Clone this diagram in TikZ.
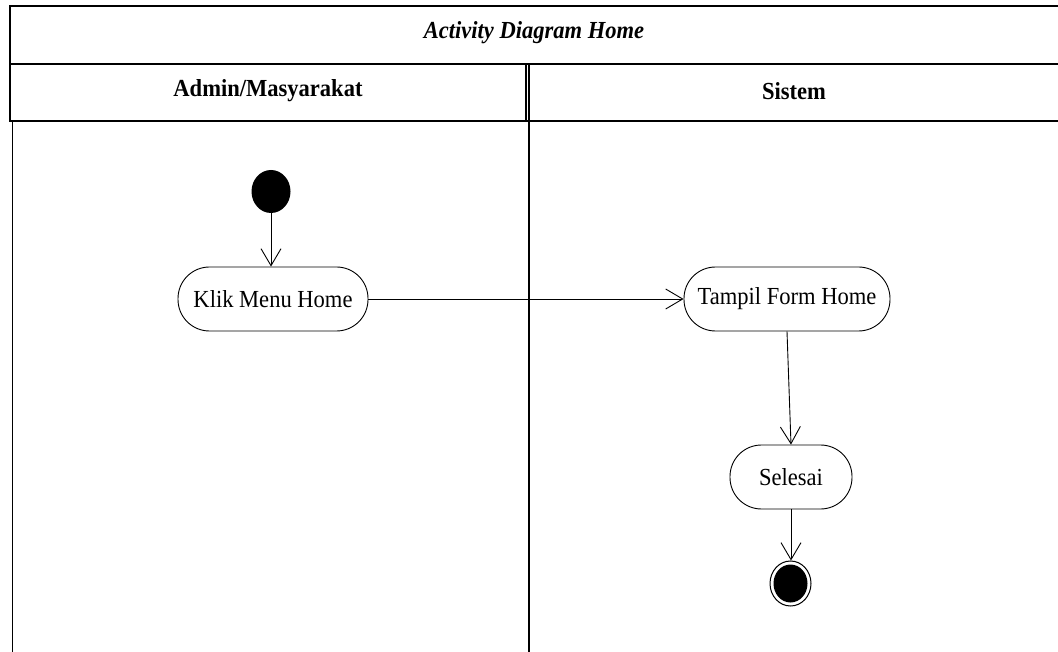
\documentclass[tikz,border=0pt]{standalone}
\usepackage{fontspec}
\setmainfont{Liberation Serif}[FakeStretch=0.92]
\usetikzlibrary{arrows.meta,shapes.geometric}
\begin{document}
\begin{tikzpicture}[x=1pt,y=-1pt,
  frame/.style={line width=1.7pt},
  lane/.style={line width=1.4pt},
  txt/.style={font=\fontsize{24.5}{29}\selectfont},
  label/.style={font=\fontsize{24.5}{29}\selectfont\bfseries},
  action/.style={draw, line width=0.9pt, rectangle, rounded corners=31.5pt,
    minimum height=64pt, inner sep=0pt, txt},
  flow/.style={draw, line width=0.9pt,
    -{Straight Barb[length=17pt,width=20pt,line width=0.9pt]}},
  initial/.style={ellipse, fill=black, minimum width=39pt,
    minimum height=43pt, inner sep=0pt},
  final/.style={ellipse, draw, line width=1pt, minimum width=41pt,
    minimum height=45pt, inner sep=0pt}]
\useasboundingbox (0,0) rectangle (1058,652);

% swimlane frame
\draw[frame] (1058,6) -- (10,6) -- (10,121) -- (1058,121);
\draw[frame] (10,64) -- (1058,64);
\draw[lane] (526,64) -- (526,121);
\draw[lane] (529,64) -- (529,652);
\draw[lane] (12.5,121) -- (12.5,652);

% titles
\node[label, font=\fontsize{24.5}{29}\selectfont\bfseries\itshape] (title) at (534,33) {Activity Diagram Home};
\node[label] (laneA) at (268,91) {Admin/Masyarakat};
\node[label] (laneB) at (794,91) {Sistem};

% activities
\node[initial] (start) at (271,191.5) {};
\node[action, minimum width=190pt] (klik) at (273,299) {Klik Menu Home};
\node[action, minimum width=206pt] (tampil) at (787,299) {Tampil Form Home};
\node[action, minimum width=122pt] (selesai) at (791,477) {Selesai};
\node[final] (end) at (790.5,583.5) {};
\fill (end.center) ellipse (17pt and 19pt);

% flows
\draw[flow] (start.south) -- (start.south |- klik.north);
\draw[flow] (klik.east) -- (tampil.west);
\draw[flow] (tampil.south) -- (selesai.north);
\draw[flow] (selesai.south) -- (selesai.south |- end.north);
\end{tikzpicture}
\end{document}
